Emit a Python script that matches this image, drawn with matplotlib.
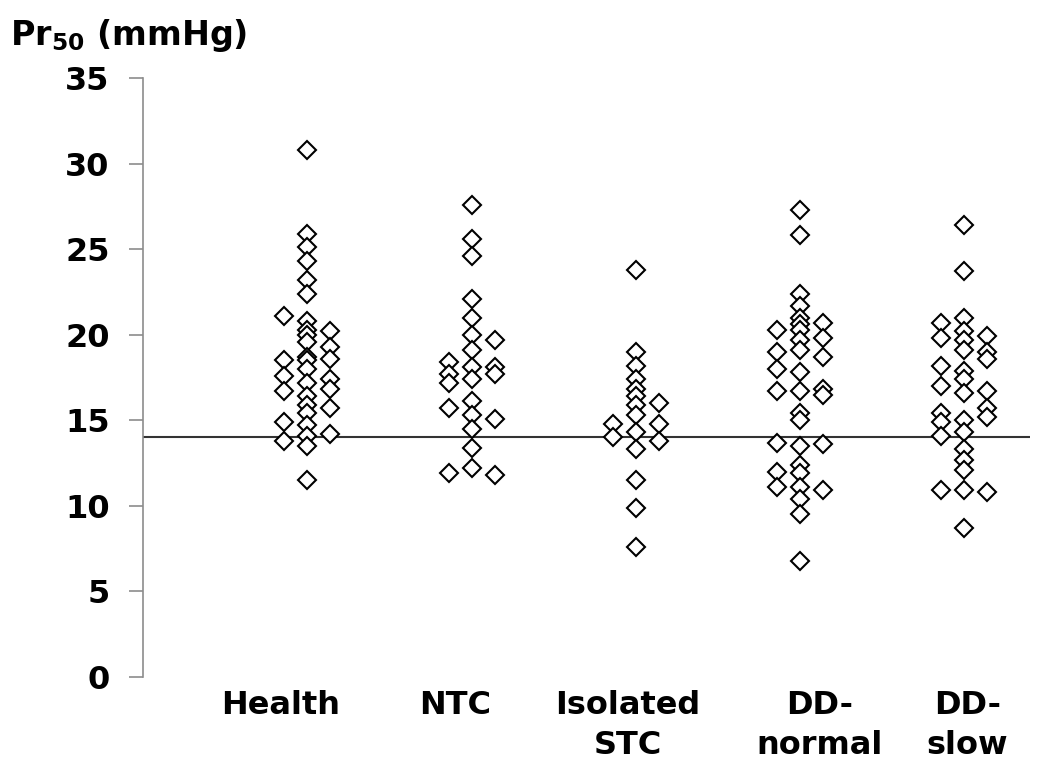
import matplotlib
matplotlib.use("Agg")
import matplotlib.pyplot as plt

# ---------------- data ----------------
categories = ["Health", "NTC", "Isolated\nSTC", "DD-\nnormal", "DD-\nslow"]

health_left = [21.1, 18.5, 17.6, 16.7, 14.9, 13.8]
health_mid = [30.8, 25.9, 25.1, 24.3, 23.2, 22.4, 20.8, 20.3, 20.0, 19.6, 18.7,
              18.5, 18.0, 17.2, 16.4, 15.9, 15.4, 14.7, 14.1, 13.5, 11.5]
health_right = [20.2, 19.3, 18.6, 17.4, 16.8, 15.7, 14.2]

ntc_left = [18.4, 17.7, 17.2, 15.7, 11.9]
ntc_mid = [27.6, 25.6, 24.6, 22.1, 21.0, 20.0, 19.1, 18.1, 17.4, 16.1, 15.3,
           14.5, 13.4, 12.2]
ntc_right = [19.7, 18.1, 17.7, 15.1, 11.8]

stc_left = [14.8, 14.0]
stc_mid = [23.8, 19.0, 18.2, 17.4, 16.8, 16.4, 15.9, 15.3, 14.3, 13.3, 11.5, 9.9, 7.6]
stc_right = [16.0, 14.8, 13.8]

ddn_left = [20.3, 19.0, 18.0, 16.7, 13.7, 12.0, 11.1]
ddn_mid = [27.3, 25.8, 22.4, 21.7, 21.0, 20.6, 20.3, 19.7, 19.1, 17.8, 16.7,
           15.4, 15.0, 13.5, 12.4, 11.9, 11.1, 10.4, 9.5, 6.8]
ddn_right = [20.7, 19.8, 18.7, 16.8, 16.5, 13.6, 10.9]

dds_left = [20.7, 19.8, 18.2, 17.0, 15.4, 14.9, 14.1, 10.9]
dds_mid = [26.4, 23.7, 21.0, 20.2, 19.7, 19.1, 17.9, 17.4, 16.6, 15.0, 14.3,
           13.3, 12.7, 12.1, 10.9, 8.7]
dds_right = [19.9, 19.0, 18.6, 16.7, 15.7, 15.2, 10.8]

threshold = 14.0
yticks = [0, 5, 10, 15, 20, 25, 30, 35]
ylabel = "Pr$_{50}$ (mmHg)"

groups = [
    (health_left, health_mid, health_right),
    (ntc_left, ntc_mid, ntc_right),
    (stc_left, stc_mid, stc_right),
    (ddn_left, ddn_mid, ddn_right),
    (dds_left, dds_mid, dds_right),
]

# ---------------- style ----------------
plt.rcParams["font.family"] = ["DejaVu Sans"]
plt.rcParams["font.weight"] = "bold"
plt.rcParams["mathtext.fontset"] = "custom"
plt.rcParams["mathtext.rm"] = "DejaVu Sans:bold"
plt.rcParams["mathtext.it"] = "DejaVu Sans:bold"
plt.rcParams["mathtext.bf"] = "DejaVu Sans:bold"
plt.rcParams["mathtext.default"] = "rm"

fig = plt.figure(figsize=(10.5, 7.83), dpi=100)
ax = fig.add_axes([143 / 1050, 1 - 677 / 783, (1030 - 143) / 1050, (677 - 78) / 783])

col_offsets = [-0.14, 0.0, 0.14]
for i, cols in enumerate(groups):
    for off, vals in zip(col_offsets, cols):
        ax.plot([i + off] * len(vals), vals, linestyle="none", marker="D",
                markersize=9.0, markerfacecolor="white", markeredgecolor="black",
                markeredgewidth=1.5, zorder=3)

ax.axhline(threshold, color="#333333", linewidth=1.5, zorder=2)

ax.set_xlim(-1.0, 4.4)
ax.set_ylim(0, 35)
ax.set_yticks(yticks)
ax.set_yticklabels([str(t) for t in yticks], fontsize=23, fontweight="bold")
ax.tick_params(axis="y", length=10, width=1.2, color="#8c8c8c", pad=14)

label_offsets = [-0.16, -0.10, -0.05, 0.12, 0.02]
ax.set_xticks([i + o for i, o in enumerate(label_offsets)])
ax.set_xticklabels(categories, fontsize=23, fontweight="bold", linespacing=1.38)
ax.tick_params(axis="x", length=0, pad=9)

for s in ["top", "right", "bottom"]:
    ax.spines[s].set_visible(False)
ax.spines["left"].set_color("#8c8c8c")
ax.spines["left"].set_linewidth(1.2)

fig.text(10 / 1050, 1 - 35 / 783, ylabel, fontsize=24, fontweight="bold",
         ha="left", va="center")

fig.savefig("out.png", dpi=100)
